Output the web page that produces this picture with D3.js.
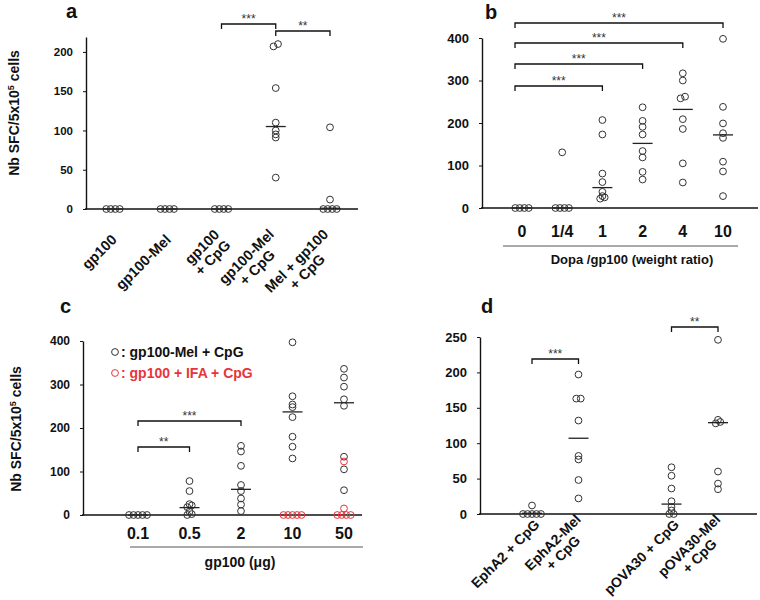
<!DOCTYPE html>
<html>
<head>
<meta charset="utf-8">
<script src="https://cdn.jsdelivr.net/npm/d3@7"></script>
<style>
  body { margin: 0; background: #fff; }
  text { font-family: 'Liberation Sans', Arial, sans-serif; }
</style>
</head>
<body>
<script>
// ---------- data ----------
// panel a
var aCats = ["gp100", "gp100-Mel", "gp100|+ CpG", "gp100-Mel|+ CpG", "Mel + gp100|+ CpG"];
var aValues = [[0, 0, 0, 0], [0, 0, 0, 0], [0, 0, 0, 0],
               [210, 207, 154, 110, 100, 95, 91, 40],
               [104, 12, 0, 0, 0, 0]];
var aMedians = [0, 0, 0, 105, 1];
var aTicks = [0, 50, 100, 150, 200];

// panel b
var bCats = ["0", "1/4", "1", "2", "4", "10"];
var bValues = [[0, 0, 0, 0], [131, 0, 0, 0, 0],
               [207, 173, 81, 61, 38, 28, 25, 22],
               [237, 205, 191, 173, 134, 119, 85, 67],
               [317, 300, 262, 258, 209, 186, 105, 60],
               [398, 238, 199, 176, 165, 109, 86, 28]];
var bMedians = [0, 0, 48, 152, 232, 172];
var bTicks = [0, 100, 200, 300, 400];

// panel c
var cCats = ["0.1", "0.5", "2", "10", "50"];
var cMel = [[0, 0, 0, 0, 0],
            [78, 55, 25, 22, 18, 8, 2, 0],
            [159, 146, 113, 69, 55, 38, 24, 9],
            [397, 273, 254, 248, 225, 180, 157, 130],
            [336, 316, 295, 266, 251, 134, 105, 57]];
var cMelMedians = [0, 17, 59, 237, 258];
var cIfa = [[], [], [], [0, 0, 0, 0, 0], [123, 15, 0, 0, 0, 0]];
var cTicks = [0, 100, 200, 300, 400];

// panel d
var dCats = ["EphA2 + CpG", "EphA2-Mel|+ CpG", "pOVA30 + CpG", "pOVA30-Mel|+ CpG"];
var dValues = [[12, 0, 0, 0, 0, 0],
               [197, 163, 163, 132, 82, 77, 48, 22],
               [66, 54, 36, 18, 10, 5, 0, 0],
               [246, 133, 130, 128, 60, 43, 35]];
var dMedians = [1, 107, 14, 129];
var dTicks = [0, 50, 100, 150, 200, 250];

// ---------- drawing ----------
var red = "#e8343a";
var svg = d3.select("body").append("svg")
    .attr("width", 760)
    .attr("height", 600);

// spread points that sit on (almost) the same level
function placeDots(vals, cx, y, gap) {
    var pts = vals.map(function(v) { return {v: v, py: y(v)}; })
                  .sort(function(p, q) { return q.py - p.py; });
    var out = [], cluster = [];
    function flush() {
        cluster.forEach(function(p, i) {
            p.px = cx + (i - (cluster.length - 1) / 2) * gap;
            out.push(p);
        });
        cluster = [];
    }
    pts.forEach(function(p) {
        if (cluster.length && cluster[0].py - p.py > 2.5) flush();
        cluster.push(p);
    });
    flush();
    return out;
}

function drawDots(x, y, groups, color) {
    groups.forEach(function(vals, i) {
        svg.selectAll(null)
            .data(placeDots(vals, x(i), y, 4.5))
            .enter()
            .append("circle")
            .attr("cx", function(d) { return d.px; })
            .attr("cy", function(d) { return d.py; })
            .attr("r", 3.4)
            .attr("fill", "none")
            .attr("stroke", color)
            .attr("stroke-width", 1);
    });
}

function drawMedians(x, y, meds) {
    svg.selectAll(null)
        .data(meds)
        .enter()
        .append("line")
        .attr("x1", function(d, i) { return x(i) - 10; })
        .attr("x2", function(d, i) { return x(i) + 10; })
        .attr("y1", function(d) { return y(d); })
        .attr("y2", function(d) { return y(d); })
        .attr("stroke", "#222")
        .attr("stroke-width", 1.3);
}

function yAxis(y, ticks, xPos, fs) {
    var g = svg.append("g")
        .attr("transform", "translate(" + xPos + ",0)")
        .call(d3.axisLeft(y).tickValues(ticks).tickSize(3).tickSizeOuter(0).tickPadding(10));
    g.select(".domain").attr("stroke", "#111").attr("stroke-width", 1.4);
    g.selectAll(".tick line").attr("stroke", "#111");
    g.selectAll(".tick text")
        .style("font-family", "'Liberation Sans', Arial, sans-serif")
        .style("font-size", fs + "px")
        .style("font-weight", "bold")
        .attr("fill", "#111");
}

function xLine(x1, x2, yPos) {
    svg.append("line")
        .attr("x1", x1).attr("x2", x2)
        .attr("y1", yPos).attr("y2", yPos)
        .attr("stroke", "#111")
        .attr("stroke-width", 1.4);
}

function bracket(x1, x2, yPos, stars) {
    svg.append("path")
        .attr("d", "M" + x1 + "," + (yPos + 5) + "V" + yPos + "H" + x2 + "V" + (yPos + 5))
        .attr("fill", "none")
        .attr("stroke", "#111")
        .attr("stroke-width", 1.3);
    svg.append("text")
        .attr("x", (x1 + x2) / 2)
        .attr("y", yPos - 1)
        .attr("text-anchor", "middle")
        .style("font-size", "12px")
        .attr("fill", "#333")
        .text(stars);
}

function slantLabels(cats, x, yPos, dx, fs, weight) {
    cats.forEach(function(c, i) {
        var lines = c.split("|");
        var t = svg.append("text")
            .attr("transform", "translate(" + (x(i) + dx) + "," + yPos + ") rotate(-45)")
            .style("font-size", fs + "px")
            .style("font-weight", weight)
            .attr("fill", "#111")
            .attr("text-anchor", "middle");
        lines.forEach(function(l, j) {
            t.append("tspan")
                .attr("x", 0)
                .attr("y", (j - (lines.length - 1) / 2) * fs * 1.05)
                .attr("dy", "0.35em")
                .text(l);
        });
        var w = d3.max(t.selectAll("tspan").nodes(), function(n) { return n.getComputedTextLength(); });
        t.selectAll("tspan").attr("x", -w / 2);
    });
}

function yTitle(xPos, yPos) {
    var t = svg.append("text")
        .attr("transform", "translate(" + xPos + "," + yPos + ") rotate(-90)")
        .attr("text-anchor", "middle")
        .style("font-size", "14px")
        .style("font-weight", "bold")
        .attr("fill", "#111");
    t.append("tspan").text("Nb SFC/5x10");
    t.append("tspan").attr("dy", -5).style("font-size", "9px").text("5");
    t.append("tspan").attr("dy", 5).text(" cells");
}

function letter(ch, xPos, yPos) {
    svg.append("text")
        .attr("x", xPos).attr("y", yPos)
        .style("font-size", "20px")
        .style("font-weight", "bold")
        .attr("fill", "#111")
        .text(ch);
}

function plainText(txt, xPos, yPos, fs, color, anchor) {
    svg.append("text")
        .attr("x", xPos).attr("y", yPos)
        .attr("text-anchor", anchor || "middle")
        .style("font-size", fs + "px")
        .style("font-weight", "bold")
        .attr("fill", color || "#111")
        .text(txt);
}

// ----- panel a -----
var xa = d3.scalePoint().domain(d3.range(aCats.length)).range([113, 330]);
var ya = d3.scaleLinear().domain([0, 219]).range([209, 37]);
letter("a", 66, 18);
yTitle(19, 113);
yAxis(ya, aTicks, 86, 11.5);
xLine(85, 358, ya(0));
drawDots(xa, ya, aValues, "#333");
drawMedians(xa, ya, aMedians);
bracket(xa(2), xa(3), 24, "***");
bracket(xa(3), xa(4), 31, "**");
slantLabels(aCats, xa, 237, 1, 14.5, "bold");

// ----- panel b -----
var xb = d3.scalePoint().domain(d3.range(bCats.length)).range([522, 723]);
var yb = d3.scaleLinear().domain([0, 400]).range([208, 38]);
letter("b", 485, 19);
yAxis(yb, bTicks, 482, 13);
xLine(481, 758, yb(0));
drawDots(xb, yb, bValues, "#333");
drawMedians(xb, yb, bMedians);
bracket(xb(0) - 7, xb(2), 86, "***");
bracket(xb(0) - 7, xb(3), 64, "***");
bracket(xb(0) - 7, xb(4), 43, "***");
bracket(xb(0) - 7, xb(5), 23, "***");
bCats.forEach(function(c, i) { plainText(c, xb(i), 237, 16); });
svg.append("line").attr("x1", 503).attr("x2", 738).attr("y1", 246).attr("y2", 246)
    .attr("stroke", "#555").attr("stroke-width", 1);
plainText("Dopa /gp100 (weight ratio)", 632, 264, 13);

// ----- panel c -----
var xc = d3.scalePoint().domain(d3.range(cCats.length)).range([138, 344]);
var yc = d3.scaleLinear().domain([0, 400]).range([515, 341]);
letter("c", 60, 313);
yTitle(21, 429);
yAxis(yc, cTicks, 83, 12);
xLine(82, 362, yc(0));
drawDots(xc, yc, cMel, "#333");
drawDots(xc, yc, cIfa, red);
drawMedians(xc, yc, cMelMedians);
bracket(xc(0), xc(1), 447, "**");
bracket(xc(0), xc(2), 421, "***");
cCats.forEach(function(c, i) { plainText(c, xc(i), 539, 16); });
svg.append("line").attr("x1", 130).attr("x2", 363).attr("y1", 547).attr("y2", 547)
    .attr("stroke", "#555").attr("stroke-width", 1);
svg.append("text").attr("x", 240).attr("y", 567).attr("text-anchor", "middle")
    .style("font-size", "14px").style("font-weight", "bold").attr("fill", "#111")
    .text("gp100  (\u03bcg)");
// legend
svg.append("circle").attr("cx", 115).attr("cy", 352).attr("r", 3.4)
    .attr("fill", "none").attr("stroke", "#333");
plainText(": gp100-Mel + CpG", 121, 357, 14, "#111", "start");
svg.append("circle").attr("cx", 115).attr("cy", 373).attr("r", 3.4)
    .attr("fill", "none").attr("stroke", red);
plainText(": gp100 + IFA + CpG", 121, 378, 14, red, "start");

// ----- panel d -----
var dSlot = d3.scalePoint().domain(d3.range(5)).range([532, 718]);
var xd = function(i) { return dSlot(i < 2 ? i : i + 1); };
var yd = d3.scaleLinear().domain([0, 250]).range([514, 337]);
letter("d", 481, 313);
yAxis(yd, dTicks, 480, 13);
xLine(479, 757, yd(0));
drawDots(xd, yd, dValues, "#333");
drawMedians(xd, yd, dMedians);
bracket(xd(0), xd(1), 359, "***");
bracket(xd(2), xd(3), 327, "**");
slantLabels(dCats, xd, 522, 5, 14, "bold");
</script>
</body>
</html>
